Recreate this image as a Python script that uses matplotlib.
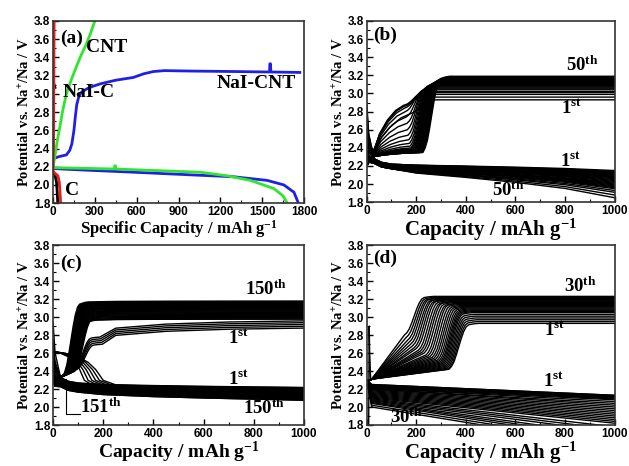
import numpy as np
import matplotlib.pyplot as plt
from matplotlib.ticker import MultipleLocator

SERIF = 'Liberation Serif'
plt.rcParams['font.family'] = 'Liberation Sans'
plt.rcParams['font.weight'] = 'bold'
plt.rcParams['mathtext.fontset'] = 'custom'
plt.rcParams['mathtext.rm'] = 'Liberation Serif:bold'
plt.rcParams['mathtext.it'] = 'Liberation Serif:bold'
plt.rcParams['mathtext.bf'] = 'Liberation Serif:bold'

# ---------------- (a) first cycle of each electrode ----------------
a_nacnt_chg_q = [5, 40, 96, 120, 135, 150, 160, 170, 185, 205, 260, 340, 450, 576, 650, 720, 800, 1000, 1300, 1553, 1555, 1560, 1562, 1770]
a_nacnt_chg_v = [2.29, 2.31, 2.33, 2.38, 2.45, 2.6, 2.75, 2.88, 2.97, 3.02, 3.07, 3.11, 3.15, 3.18, 3.22, 3.245, 3.255, 3.25, 3.245, 3.24, 3.33, 3.33, 3.24, 3.235]
a_nacnt_dis_q = [0, 200, 576, 1000, 1296, 1536, 1656, 1728, 1760]
a_nacnt_dis_v = [2.18, 2.165, 2.14, 2.11, 2.09, 2.05, 2.0, 1.92, 1.8]
a_cnt_chg_q = [0, 12, 30, 48, 70, 96, 130, 168, 200, 240, 270, 300]
a_cnt_chg_v = [2.2, 2.3, 2.48, 2.63, 2.82, 3.0, 3.15, 3.3, 3.42, 3.55, 3.67, 3.8]
a_cnt_dis_q = [0, 300, 440, 442, 448, 450, 700, 1056, 1250, 1416, 1584, 1650, 1680]
a_cnt_dis_v = [2.19, 2.18, 2.175, 2.21, 2.21, 2.175, 2.16, 2.14, 2.1, 2.05, 1.96, 1.88, 1.8]
a_c_chg_q = [0, 4, 6, 8]
a_c_chg_v = [2.17, 2.5, 3.2, 3.8]
a_c_dis_q = [0, 20, 35, 45, 50, 55]
a_c_dis_v = [2.15, 2.12, 2.1, 2.03, 1.92, 1.8]
a_naic_chg_q = [0, 2, 4, 14]
a_naic_chg_v = [2.2, 2.7, 3.12, 3.07]
a_naic_dis_q = [0, 15, 25, 30, 34]
a_naic_dis_v = [2.15, 2.1, 2.03, 1.92, 1.8]

# shape of the charge step (offsets in units of step width)
STEP_K = [-2, -1.5, -1, -0.5, 0, 0.5, 1, 1.5, 2, 3, 4]
STEP_S = [0, 0.06, 0.16, 0.32, 0.5, 0.68, 0.83, 0.93, 0.97, 0.99, 1.0]
TAIL_X = [250, 450, 700, 1000]
TAIL_F = [0.55, 0.8, 0.93, 1.0]
LOW_F = [0.25, 0.5, 0.75]

# ---------------- (b) 50 cycles ----------------
b_chg_q = [215, 185, 185, 187, 190, 192, 195, 198, 200, 203, 206, 209, 212, 215, 218, 221, 224, 227, 230, 233, 236, 239, 242, 245, 248, 251, 254, 257, 260, 263]
b_chg_knee = [2.78, 2.86, 2.87, 2.86, 2.84, 2.8, 2.74, 2.67, 2.6, 2.54, 2.49, 2.45, 2.42, 2.4, 2.39, 2.38, 2.38, 2.37, 2.37, 2.37, 2.36, 2.36, 2.36, 2.36, 2.36, 2.35, 2.35, 2.35, 2.35, 2.35]
b_chg_hi = [2.93, 2.96, 2.99, 3.01, 3.02, 3.04, 3.05, 3.06, 3.07, 3.08, 3.09, 3.10, 3.10, 3.11, 3.11, 3.12, 3.12, 3.13, 3.13, 3.14, 3.14, 3.15, 3.15, 3.16, 3.16, 3.17, 3.17, 3.18, 3.18, 3.19]
b_low_s = [0.45, 0.72, 0.9]
b_dis_v0 = [2.9, 2.85, 2.75, 2.7, 2.62, 2.55, 2.5, 2.45, 2.42, 2.4, 2.38, 2.36, 2.35, 2.34, 2.33, 2.32, 2.32, 2.32, 2.32, 2.32, 2.32, 2.32, 2.32, 2.32, 2.32, 2.32, 2.32, 2.32, 2.32, 2.32]
b_dis_vb = [2.22, 2.22, 2.22, 2.21, 2.21, 2.21, 2.21, 2.2, 2.2, 2.2, 2.2, 2.2, 2.19, 2.19, 2.19, 2.19, 2.19, 2.19, 2.18, 2.18, 2.18, 2.18, 2.18, 2.18, 2.18, 2.17, 2.17, 2.17, 2.17, 2.17]
b_dis_end = [2.15, 2.14, 2.13, 2.13, 2.12, 2.12, 2.11, 2.11, 2.10, 2.10, 2.09, 2.08, 2.08, 2.07, 2.06, 2.05, 2.04, 2.03, 2.02, 2.01, 2.0, 1.99, 1.98, 1.97, 1.96, 1.95, 1.93, 1.91, 1.88, 1.85]
b_dis_x = [100, 200, 400, 600, 800, 1000]
b_dis_f = [0, 0.15, 0.3, 0.47, 0.68, 1.0]

# ---------------- (c) 150 cycles ----------------
c_chg_q = [72, 74, 76, 78, 80, 82, 84, 86, 88, 90, 92, 94, 96, 98, 100, 102, 104, 106, 108, 110, 112, 114, 116, 118, 120, 75, 79, 83, 87, 91, 95, 99, 103, 107, 111]
c_chg_knee = [2.34, 2.34, 2.35, 2.35, 2.35, 2.36, 2.36, 2.36, 2.36, 2.37, 2.37, 2.37, 2.37, 2.38, 2.38, 2.38, 2.38, 2.39, 2.39, 2.39, 2.4, 2.4, 2.4, 2.4, 2.4, 2.35, 2.35, 2.36, 2.36, 2.37, 2.37, 2.38, 2.38, 2.39, 2.39]
c_chg_hi = [3.18, 3.17, 3.17, 3.16, 3.16, 3.15, 3.15, 3.14, 3.14, 3.13, 3.12, 3.12, 3.11, 3.1, 3.1, 3.09, 3.08, 3.07, 3.06, 3.05, 3.04, 3.03, 3.02, 3.01, 3.0, 3.13, 3.11, 3.09, 3.07, 3.05, 3.03, 3.01, 2.99, 2.98, 2.98]
c_early_q = [128, 125, 122, 120, 118]
c_early_sh = [2.7, 2.72, 2.74, 2.76, 2.78]
c_early_hi = [2.88, 2.9, 2.92, 2.94, 2.96]
c_dis_v0 = [2.95, 2.75, 2.7, 2.66, 2.62, 2.58, 2.54, 2.5, 2.47, 2.44, 2.42, 2.4, 2.38, 2.36, 2.35, 2.34, 2.33, 2.33, 2.32, 2.32, 2.32, 2.31, 2.31, 2.31, 2.3, 2.3, 2.3, 2.3, 2.3, 2.3, 2.3, 2.3, 2.3, 2.3]
c_dis_vb = [2.27, 2.27, 2.26, 2.26, 2.26, 2.25, 2.25, 2.25, 2.24, 2.24, 2.24, 2.23, 2.23, 2.23, 2.22, 2.22, 2.22, 2.21, 2.21, 2.21, 2.2, 2.2, 2.2, 2.2, 2.19, 2.19, 2.19, 2.19, 2.18, 2.18, 2.18, 2.18, 2.17, 2.17]
c_dis_end = [2.22, 2.21, 2.21, 2.2, 2.2, 2.19, 2.19, 2.18, 2.18, 2.17, 2.17, 2.16, 2.16, 2.15, 2.15, 2.14, 2.14, 2.13, 2.13, 2.13, 2.12, 2.12, 2.12, 2.11, 2.11, 2.11, 2.1, 2.1, 2.1, 2.09, 2.09, 2.09, 2.08, 2.08]
c_dis_x = [100, 200, 400, 600, 800, 1000]
c_dis_f = [0, 0.3, 0.55, 0.72, 0.86, 1.0]
c_hump_h = [200, 185, 170, 155, 140, 125]
c_hump_end = [2.22, 2.21, 2.2, 2.2, 2.19, 2.19]
HUMP_F = [0, 0.25, 0.5, 0.7, 0.85, 1.0, 1.3]
HUMP_V = [2.62, 2.6, 2.56, 2.5, 2.42, 2.3, 2.24]

# ---------------- (d) 30 cycles ----------------
d_chg_q = [372, 368, 364, 360, 356, 352, 348, 344, 340, 336, 331, 325, 318, 311, 304, 296, 288, 280, 272, 264, 256, 248, 240, 232, 225, 218, 211, 204, 198, 192]
d_chg_knee = [2.42, 2.42, 2.43, 2.44, 2.45, 2.46, 2.47, 2.48, 2.49, 2.5, 2.51, 2.52, 2.53, 2.54, 2.55, 2.56, 2.57, 2.58, 2.6, 2.61, 2.62, 2.63, 2.65, 2.66, 2.68, 2.7, 2.72, 2.74, 2.77, 2.8]
d_chg_hi = [2.93, 2.95, 2.97, 2.99, 3.01, 3.03, 3.05, 3.06, 3.07, 3.08, 3.09, 3.10, 3.11, 3.12, 3.13, 3.14, 3.15, 3.15, 3.16, 3.17, 3.17, 3.18, 3.19, 3.19, 3.2, 3.2, 3.21, 3.21, 3.22, 3.23]
d_low_s = [0.25, 0.5, 0.75]
d_dis_vs = [2.25, 2.25, 2.24, 2.24, 2.23, 2.23, 2.22, 2.22, 2.21, 2.21, 2.2, 2.2, 2.19, 2.18, 2.17, 2.16, 2.15, 2.14, 2.13, 2.12, 2.11, 2.1, 2.09, 2.08, 2.07, 2.06, 2.05, 2.04, 2.02, 2.0]
d_dis_end = [2.13, 2.13, 2.12, 2.12, 2.11, 2.11, 2.1, 2.09, 2.08, 2.06, 2.04, 2.02, 2.0, 1.98, 1.96, 1.94, 1.92, 1.9, 1.88, 1.86, 1.84, 1.82, 1.78, 1.75, 1.72, 1.68, 1.65, 1.62, 1.59, 1.56]
d_spike_q = [8, 10, 12, 16]
d_spike_v = [1.8, 2.9, 2.6, 2.3]


def charge_curve(q, knee, hi, w, v0, v1, sh=None, low_s=None):
    xs = [0.0, 20.0]
    ys = [v0, v1]
    x_knee = q - 2 * w
    if low_s is not None:
        for f, s in zip(LOW_F, low_s):
            xs.append(20 + f * (x_knee - 20))
            ys.append(v1 + s * (knee - v1))
    top = hi if sh is None else sh
    for k, s in zip(STEP_K, STEP_S):
        xs.append(q + k * w)
        ys.append(knee + s * (top - knee))
    if sh is None:
        xs.append(1000)
        ys.append(hi)
    else:
        for tx, tf in zip(TAIL_X, TAIL_F):
            if tx > xs[-1]:
                xs.append(tx)
                ys.append(top + tf * (hi - top))
    return xs, ys


def discharge_curve(v0, vb, vend, fx, ff):
    xs = [0, 8, 30, 60]
    ys = [v0, v0 - 0.5 * (v0 - vb), vb + 0.06, vb + 0.02]
    for x, f in zip(fx, ff):
        xs.append(x)
        ys.append(vb - f * (vb - vend))
    return xs, ys


def style_axes(ax, xmajor, xlabel, xsize):
    ax.set_xlim(0, 1000 if xmajor == 200 else 1800)
    ax.set_ylim(1.8, 3.8)
    ax.xaxis.set_major_locator(MultipleLocator(xmajor))
    ax.xaxis.set_minor_locator(MultipleLocator(xmajor / 2))
    ax.yaxis.set_major_locator(MultipleLocator(0.2))
    ax.yaxis.set_minor_locator(MultipleLocator(0.1))
    ax.tick_params(which='both', direction='in', top=False, right=False)
    ax.tick_params(which='major', length=4, width=1, labelsize=8.5, pad=2)
    ax.tick_params(which='minor', length=2, width=0.8)
    for lab in ax.get_xticklabels() + ax.get_yticklabels():
        lab.set_fontweight('bold')
        lab.set_fontfamily('Liberation Sans')
    for sp in ax.spines.values():
        sp.set_linewidth(1.2)
        sp.set_color('#333333')
    ax.set_xlabel(xlabel, fontsize=xsize, labelpad=0, fontfamily=SERIF,
                  fontweight='bold')
    ax.set_ylabel('Potential vs. Na$^{+}$/Na / V', fontsize=10.5, labelpad=1,
                  fontfamily=SERIF, fontweight='bold')


def label(ax, x, y, s, size=13.5, **kw):
    ax.text(x, y, s, fontsize=size, va='center', fontfamily=SERIF,
            fontweight='bold', **kw)


fig = plt.figure(figsize=(6.29, 4.66), dpi=100)
ax_a = fig.add_axes([0.0843, 0.564, 0.399, 0.391])
ax_b = fig.add_axes([0.583, 0.566, 0.394, 0.389])
ax_c = fig.add_axes([0.0843, 0.087, 0.399, 0.387])
ax_d = fig.add_axes([0.583, 0.088, 0.394, 0.386])

lw = 1.0

# (a)
ax_a.plot(a_naic_chg_q, a_naic_chg_v, color='black', lw=2)
ax_a.plot(a_naic_dis_q, a_naic_dis_v, color='black', lw=2)
ax_a.plot(a_nacnt_chg_q, a_nacnt_chg_v, color='#1f1fe6', lw=2)
ax_a.plot(a_nacnt_dis_q, a_nacnt_dis_v, color='#1f1fe6', lw=2)
ax_a.plot(a_cnt_chg_q, a_cnt_chg_v, color='#2ee62e', lw=2)
ax_a.plot(a_cnt_dis_q, a_cnt_dis_v, color='#2ee62e', lw=2)
ax_a.plot(a_c_chg_q, a_c_chg_v, color='#e61e1e', lw=2)
ax_a.plot(a_c_dis_q, a_c_dis_v, color='#e61e1e', lw=2)
style_axes(ax_a, 300, 'Specific Capacity / mAh g$^{-1}$', 12)
label(ax_a, 48, 3.61, '(a)', 14)
label(ax_a, 235, 3.51, 'CNT', 14)
label(ax_a, 72, 3.02, 'NaI-C', 14)
label(ax_a, 1745, 3.11, 'NaI-CNT', 14, ha='right')
label(ax_a, 84, 1.94, 'C', 14)

# (b)
for q, kn, hi in zip(b_chg_q, b_chg_knee, b_chg_hi):
    x, y = charge_curve(q, kn, hi, 18, 2.2, 2.3, low_s=b_low_s)
    ax_b.plot(x, y, color='black', lw=lw)
for v0, vb, ve in zip(b_dis_v0, b_dis_vb, b_dis_end):
    x, y = discharge_curve(v0, vb, ve, b_dis_x, b_dis_f)
    ax_b.plot(x, y, color='black', lw=lw)
style_axes(ax_b, 200, 'Capacity / mAh g$^{-1}$', 15)
label(ax_b, 25, 3.64, '(b)', 14)
label(ax_b, 806, 3.31, '50$^{\\mathrm{th}}$')
label(ax_b, 786, 2.84, '1$^{\\mathrm{st}}$')
label(ax_b, 778, 2.26, '1$^{\\mathrm{st}}$')
label(ax_b, 504, 1.93, '50$^{\\mathrm{th}}$')

# (c)
for q, kn, hi in zip(c_chg_q, c_chg_knee, c_chg_hi):
    x, y = charge_curve(q, kn, hi, 17, 2.3, 2.33, sh=hi - 0.01)
    ax_c.plot(x, y, color='black', lw=lw)
for q, sh, hi in zip(c_early_q, c_early_sh, c_early_hi):
    x, y = charge_curve(q, 2.42, hi, 17, 2.3, 2.33, sh=sh)
    ax_c.plot(x, y, color='black', lw=lw)
for v0, vb, ve in zip(c_dis_v0, c_dis_vb, c_dis_end):
    x, y = discharge_curve(v0, vb, ve, c_dis_x, c_dis_f)
    ax_c.plot(x, y, color='black', lw=lw)
for h, ve in zip(c_hump_h, c_hump_end):
    x = [h * f for f in HUMP_F] + [1000]
    y = list(HUMP_V) + [ve]
    ax_c.plot(x, y, color='black', lw=lw)
ax_c.plot([53, 53, 106], [2.32, 1.93, 1.93], color='black', lw=0.8)
style_axes(ax_c, 200, 'Capacity / mAh g$^{-1}$', 14)
label(ax_c, 27, 3.6, '(c)', 14)
label(ax_c, 765, 3.31, '150$^{\\mathrm{th}}$')
label(ax_c, 698, 2.77, '1$^{\\mathrm{st}}$')
label(ax_c, 698, 2.32, '1$^{\\mathrm{st}}$')
label(ax_c, 758, 1.99, '150$^{\\mathrm{th}}$')
label(ax_c, 109, 2.0, '151$^{\\mathrm{th}}$')

# (d)
for q, kn, hi in zip(d_chg_q, d_chg_knee, d_chg_hi):
    x, y = charge_curve(q, kn, hi, 20, 2.28, 2.31, low_s=d_low_s)
    ax_d.plot(x, y, color='black', lw=lw)
for vs, ve in zip(d_dis_vs, d_dis_end):
    ax_d.plot([0, 20, 1000], [2.3, vs, ve], color='black', lw=lw)
ax_d.plot(d_spike_q, d_spike_v, color='black', lw=lw)
style_axes(ax_d, 200, 'Capacity / mAh g$^{-1}$', 15)
label(ax_d, 24, 3.65, '(d)', 14)
label(ax_d, 798, 3.34, '30$^{\\mathrm{th}}$')
label(ax_d, 714, 2.86, '1$^{\\mathrm{st}}$')
label(ax_d, 710, 2.29, '1$^{\\mathrm{st}}$')
label(ax_d, 92, 1.89, '30$^{\\mathrm{th}}$', zorder=1)

fig.savefig('out.png', dpi=100)
